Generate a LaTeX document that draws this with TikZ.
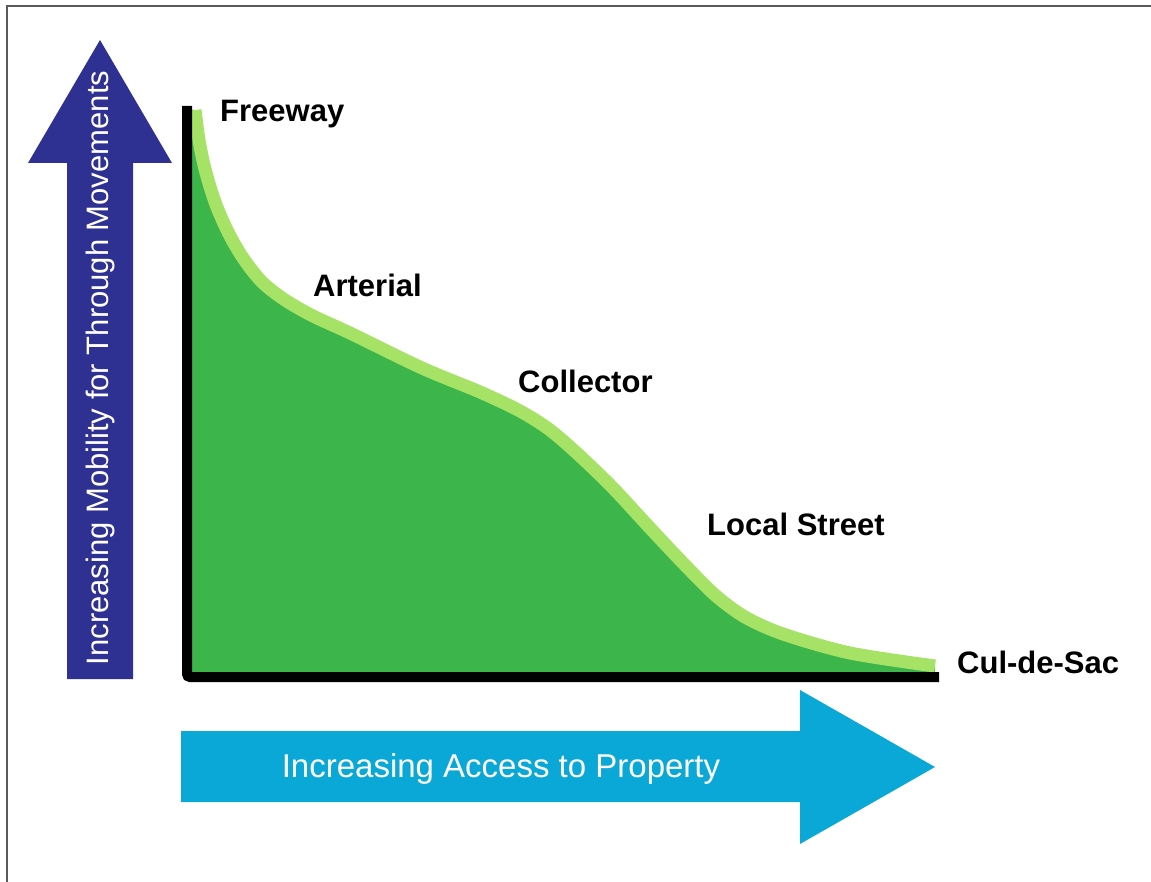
\documentclass[tikz,border=0pt]{standalone}
\usepackage{fontspec}
\setmainfont{Liberation Sans}
\definecolor{mobblue}{RGB}{46,49,146}
\definecolor{accblue}{RGB}{10,168,214}
\definecolor{fillgreen}{RGB}{60,181,74}
\definecolor{lightgreen}{RGB}{165,226,102}
\definecolor{framegray}{RGB}{90,90,90}
\tikzset{
  roadlabel/.style={anchor=base west, inner sep=0pt, font=\fontsize{31}{37}\selectfont\bfseries, text=black},
  axislabel/.style={inner sep=0pt, text=white},
}
\begin{document}
\begin{tikzpicture}[x=1pt,y=-1pt]
\useasboundingbox (0,0) rectangle (1151,882);
% frame
\draw[framegray, line width=1.5pt] (7,882) -- (7,6) -- (1151,6);
% mobility arrow
\fill[mobblue] (67,679) -- (67,163) -- (28,163) -- (100,40) -- (172,163) -- (133,163) -- (133,679) -- cycle;
\node[axislabel, font=\fontsize{31}{37}\selectfont, rotate=90, anchor=base] (mobility) at (108,368) {Increasing Mobility for Through Movements};
% access arrow
\fill[accblue] (181,731) -- (800,731) -- (800,690) -- (935,767) -- (800,844) -- (800,802) -- (181,802) -- cycle;
\node[axislabel, font=\fontsize{33}{39}\selectfont, anchor=base] (access) at (501,777) {Increasing Access to Property};
% green area
\fill[fillgreen] (187,110) -- plot[smooth] coordinates {(195,110) (199,140) (205,169) (215,202) (228,232) (243,258) (262,282) (285,300) (313,316) (350,333) (422,368) (480,392) (520,411) (550,430) (580,456) (613,488) (650,528) (683,563) (715,595) (745,617) (783,634) (850,653) (935,666)} -- (935,677) -- (187,677) -- cycle;
\draw[lightgreen, line width=13pt] plot[smooth] coordinates {(195,110) (199,140) (205,169) (215,202) (228,232) (243,258) (262,282) (285,300) (313,316) (350,333) (422,368) (480,392) (520,411) (550,430) (580,456) (613,488) (650,528) (683,563) (715,595) (745,617) (783,634) (850,653) (935,666)};
% axes
\draw[black, line width=10pt, rounded corners=3pt] (187,106) -- (187,677) -- (939,677);
% labels
\node[roadlabel] (freeway) at (220,122) {Freeway};
\node[roadlabel] (arterial) at (313,297) {Arterial};
\node[roadlabel] (collector) at (518,392) {Collector};
\node[roadlabel] (local) at (707,535) {Local Street};
\node[roadlabel] (culdesac) at (957,673) {Cul-de-Sac};
\end{tikzpicture}
\end{document}
